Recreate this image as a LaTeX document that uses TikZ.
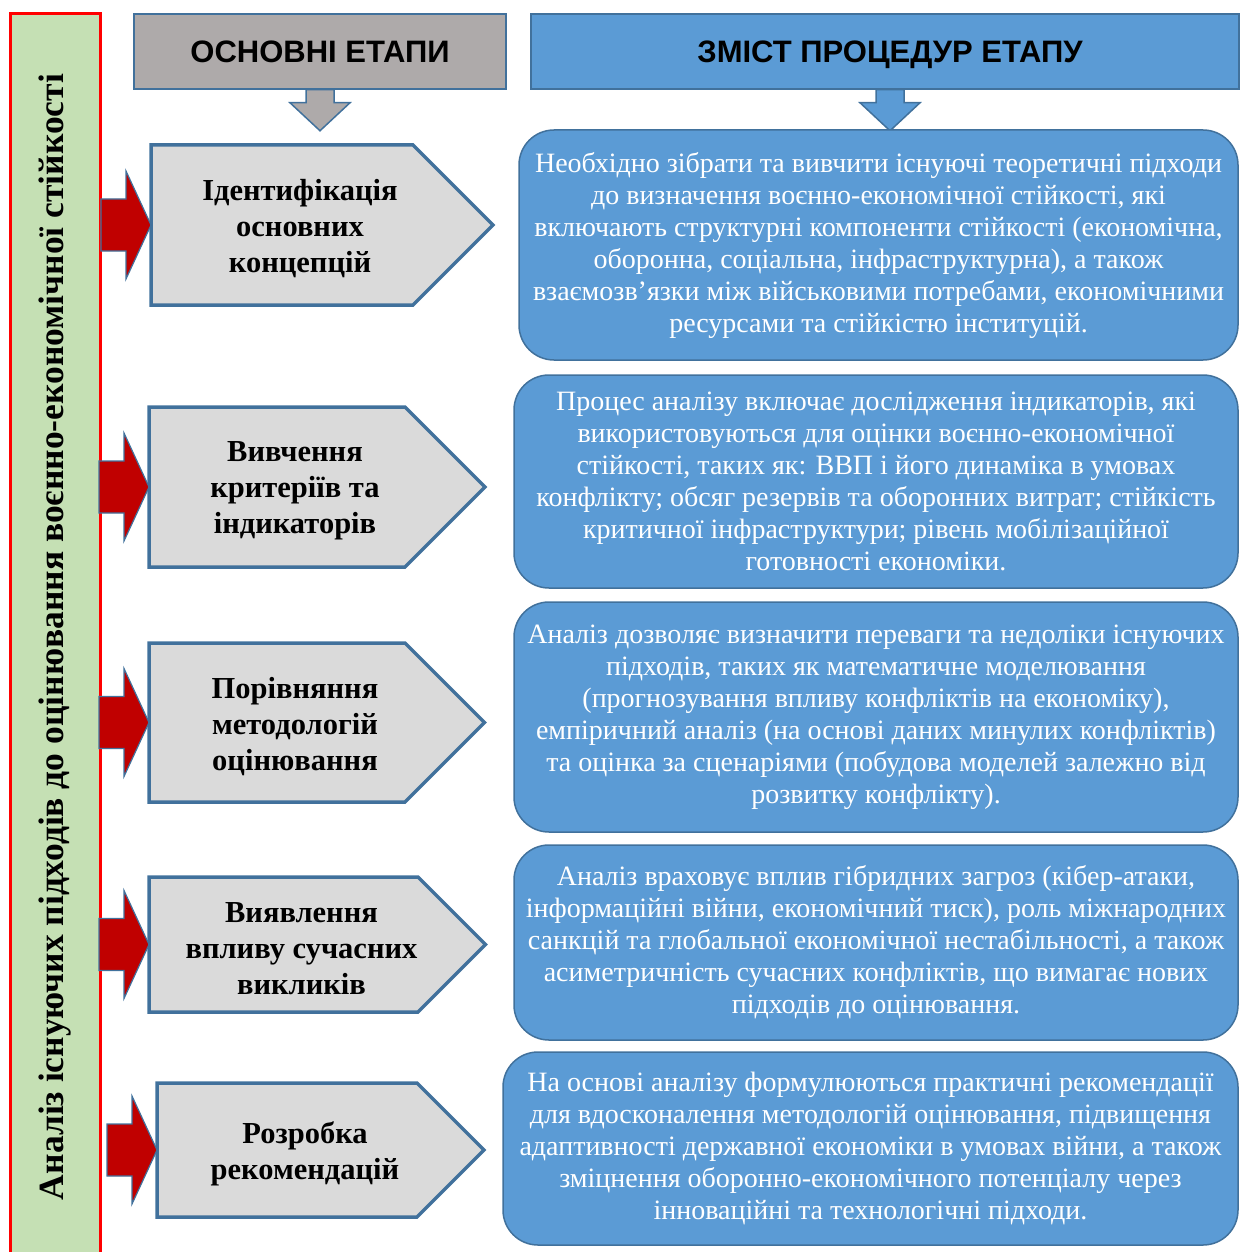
\documentclass[tikz,border=0pt]{standalone}
\usepackage{fontspec}
\setmainfont{Liberation Serif}
\setsansfont{Liberation Sans}
\usetikzlibrary{calc,positioning}
\definecolor{frameblue}{HTML}{41719C}
\definecolor{boxblue}{HTML}{5B9BD5}
\definecolor{headgray}{HTML}{AEAAAA}
\definecolor{stagegray}{HTML}{DADADA}
\definecolor{bargreen}{HTML}{C5E0B4}
\definecolor{arrowred}{HTML}{C00000}
\tikzset{
  bar/.style={draw=red, line width=3pt, fill=bargreen, rotate=90,
    minimum width=1246pt, minimum height=90pt, inner sep=0pt,
    font=\bfseries\fontsize{35.5}{38}\selectfont},
  head/.style={draw=frameblue, line width=1.5pt, minimum height=75pt,
    inner sep=0pt, text height=22pt, text depth=0pt,
    font=\sffamily\bfseries\fontsize{31}{34}\selectfont},
  blockarr/.style={draw=frameblue, line width=1.5pt, line join=miter},
  redarr/.style={draw=frameblue, line width=1.2pt, fill=arrowred, line join=miter},
  stageshape/.style={draw=frameblue, line width=3.5pt, fill=stagegray, line join=miter},
  stagetext/.style={align=center, inner sep=0pt,
    font=\bfseries\fontsize{30.5}{36}\selectfont},
  info/.style={draw=frameblue, line width=1.5pt, fill=boxblue, rounded corners=35pt,
    text=white, align=center, inner sep=0pt,
    font=\fontsize{28}{32}\selectfont},
}

\begin{document}
\begin{tikzpicture}[x=1pt,y=-1pt]
    \useasboundingbox (0,0) rectangle (1240,1252);

    % Left bar
    \node[bar] (bar) at (55,637) {Аналіз існуючих підходів до оцінювання воєнно-економічної стійкості};

    % Column headers
    \node[head, fill=headgray, minimum width=372pt] (phases) at (320,51.5) {ОСНОВНІ ЕТАПИ};
    \node[head, fill=boxblue, minimum width=708pt] (contents) at (885,51.5) {\hspace{10pt}ЗМІСТ ПРОЦЕДУР ЕТАПУ};

    % Down arrows under the headers
    \draw[blockarr, fill=headgray] ($(phases.south)+(-14,0)$) -- ++(0,13) -- ++(-16,0)
        -- ($(phases.south)+(0,41)$) -- ++(30,-28) -- ++(-16,0) -- ++(0,-13) -- cycle;
    \draw[blockarr, fill=boxblue] ($(contents.south)+(-9,0)$) -- ++(0,13) -- ++(-16,0)
        -- ($(contents.south)+(5,41)$) -- ++(30,-28) -- ++(-16,0) -- ++(0,-13) -- cycle;

    % Stages: left, top, corner, bottom, text
    \foreach \n/\l/\t/\c/\b/\txt in {
        1/151/145/413/305/{Ідентифікація\\основних\\концепцій},
        2/149/407/405/567/{Вивчення\\критеріїв та\\індикаторів},
        3/149/643/405/802/{Порівняння\\методологій\\оцінювання},
        4/149/877/418/1012/{Виявлення\\впливу сучасних\\викликів},
        5/157/1083/417/1217/{Розробка\\рекомендацій}} {
        \draw[stageshape] (\l,\t) -- (\c,\t) -- ({\c+(\b-\t)/2},{(\t+\b)/2})
            -- (\c,\b) -- (\l,\b) -- cycle;
        \node[stagetext] (stage\n) at ({(\l+\c)/2+18},{(\t+\b)/2+4}) {\txt};
        \coordinate (in\n) at (\l,{(\t+\b)/2});
    }

    % Red arrows from the bar
    \foreach \n in {1,...,5}
        \draw[redarr] (in\n) -- ++(-25,-54) -- ++(0,28) -- ++(-25,0) -- ++(0,52)
            -- ++(25,0) -- ++(0,28) -- cycle;

    % Content boxes
    \node[info, minimum width=719pt, minimum height=230pt] (info1) at (878.5,245)
        {Необхідно зібрати та вивчити існуючі теоретичні підходи\\
         до визначення воєнно-економічної стійкості, які\\
         включають структурні компоненти стійкості (економічна,\\
         оборонна, соціальна, інфраструктурна), а також\\
         взаємозв’язки між військовими потребами, економічними\\
         ресурсами та стійкістю інституцій.};
    \node[info, minimum width=724pt, minimum height=213pt] (info2) at (876,481.5)
        {Процес аналізу включає дослідження індикаторів, які\\
         використовуються для оцінки воєнно-економічної\\
         стійкості, таких як: ВВП і його динаміка в умовах\\
         конфлікту; обсяг резервів та оборонних витрат; стійкість\\
         критичної інфраструктури; рівень мобілізаційної\\
         готовності економіки.};
    \node[info, minimum width=724pt, minimum height=230pt] (info3) at (876,717)
        {Аналіз дозволяє визначити переваги та недоліки існуючих\\
         підходів, таких як математичне моделювання\\
         (прогнозування впливу конфліктів на економіку),\\
         емпіричний аналіз (на основі даних минулих конфліктів)\\
         та оцінка за сценаріями (побудова моделей залежно від\\
         розвитку конфлікту).};
    \node[info, minimum width=724pt, minimum height=195pt] (info4) at (876,942.5)
        {Аналіз враховує вплив гібридних загроз (кібер-атаки,\\
         інформаційні війни, економічний тиск), роль міжнародних\\
         санкцій та глобальної економічної нестабільності, а також\\
         асиметричність сучасних конфліктів, що вимагає нових\\
         підходів до оцінювання.};
    \node[info, minimum width=735pt, minimum height=193pt] (info5) at (870.5,1148.5)
        {На основі аналізу формулюються практичні рекомендації\\
         для вдосконалення методологій оцінювання, підвищення\\
         адаптивності державної економіки в умовах війни, а також\\
         зміцнення оборонно-економічного потенціалу через\\
         інноваційні та технологічні підходи.};
\end{tikzpicture}
\end{document}
